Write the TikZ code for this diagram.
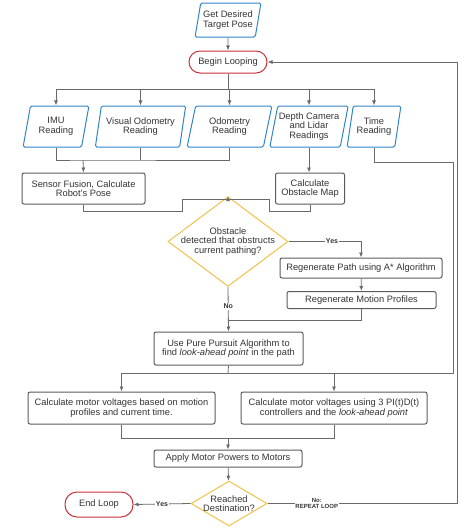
\documentclass[tikz,border=0pt]{standalone}
\usepackage{fontspec}
\setmainfont{Liberation Sans}
\usetikzlibrary{shapes.geometric,arrows.meta}
\definecolor{inblue}{HTML}{2F86C6}
\definecolor{loopred}{HTML}{C8303A}
\definecolor{askyellow}{HTML}{F1C24A}
\definecolor{boxgray}{HTML}{5A5A5A}
\definecolor{linegray}{HTML}{6A6A6A}
\definecolor{txtgray}{HTML}{333333}
\begin{document}
\begin{tikzpicture}[x=1pt,y=-1pt,
    font=\fontsize{9.3}{9.5}\selectfont, text=txtgray,
    >={Latex[length=5pt,width=4pt]},
    line/.style={draw=linegray, line width=0.8pt},
    inputbox/.style={trapezium, trapezium left angle=75, trapezium right angle=105,
      trapezium stretches=true, draw=inblue, line width=1pt, rounded corners=1.5pt,
      inner sep=1pt, align=center},
    stepbox/.style={draw=boxgray, line width=1pt, rounded corners=2pt, inner sep=1pt, align=center},
    loopbox/.style={draw=loopred, line width=1pt, rounded corners=11pt, inner sep=1pt, align=center},
    askbox/.style={diamond, draw=askyellow, line width=1pt, inner sep=-8pt, align=center},
    lbl/.style={font=\fontsize{7}{7}\selectfont\bfseries, fill=white, inner sep=1pt},
    lbltwo/.style={font=\fontsize{6}{6.5}\selectfont\bfseries, fill=white, inner sep=0.5pt, align=center}]
\useasboundingbox (0,0) rectangle (474,528);
%% Nodes
	% start
	\node[inputbox, minimum width=66, minimum height=34] (target) at (228,20) {Get Desired\\Target Pose};
	\node[loopbox, minimum width=78, minimum height=22] (begin) at (228,62) {Begin Looping};
	% readings
	\node[inputbox, minimum width=66, minimum height=41] (imu) at (56,126.5) {IMU\\Reading};
	\node[inputbox, minimum width=91, minimum height=41] (vo) at (140.5,126.5) {Visual Odometry\\Reading};
	\node[inputbox, minimum width=85, minimum height=41] (odo) at (229.5,126.5) {Odometry\\Reading};
	\node[inputbox, minimum width=74, minimum height=41] (depth) at (309,126.5) {Depth Camera\\and Lidar\\Readings};
	\node[inputbox, minimum width=54, minimum height=41] (time) at (374,126.5) {Time\\Reading};
	% processing
	\node[stepbox, minimum width=123, minimum height=31] (fusion) at (83.5,188.5) {Sensor Fusion, Calculate\\Robot's Pose};
	\node[stepbox, minimum width=69, minimum height=31] (obsmap) at (310,188.5) {Calculate\\Obstacle Map};
	\node[askbox, minimum width=120, minimum height=65] (obstacle) at (228,241.5) {Obstacle\\detected that obstructs\\current pathing?};
	\node[stepbox, minimum width=162, minimum height=20] (regenpath) at (361,268) {Regenerate Path using A* Algorithm};
	\node[stepbox, minimum width=149, minimum height=17] (regenmotion) at (361.5,300) {Regenerate Motion Profiles};
	\node[stepbox, minimum width=149, minimum height=33] (pursuit) at (228.5,348.5) {Use Pure Pursuit Algorithm to\\find \textit{look-ahead point} in the path};
	% motors
	\node[stepbox, minimum width=187, minimum height=32] (motion) at (121.5,408) {Calculate motor voltages based on motion\\profiles and current time.};
	\node[stepbox, minimum width=186, minimum height=32] (pid) at (334,408) {Calculate motor voltages using 3 PI(t)D(t)\\controllers and the \textit{look-ahead point}};
	\node[stepbox, minimum width=148, minimum height=17] (apply) at (228,458.5) {Apply Motor Powers to Motors};
	\node[askbox, minimum width=76, minimum height=45] (reached) at (229,503.5) {Reached\\Destination?};
	\node[loopbox, minimum width=68, minimum height=25, rounded corners=12pt] (end) at (99,504.5) {End Loop};
%% Junctions
	\coordinate (split1) at (228,89);
	\coordinate (merge1) at (83,160);
	\coordinate (join1) at (228,199);
	\coordinate (join2) at (228,320);
	\coordinate (split2) at (228,373);
	\coordinate (join3) at (228,438);
	\coordinate (timeright) at (453,162);
	\coordinate (loopright) at (457,503.5);
%% Edges
	\path[line, ->] (target) edge (begin);
	\draw[line] (begin.south) -- (split1);
	\foreach \n in {imu,vo,odo,depth,time}
		\draw[line, ->] (split1) -| (\n.north);
	\draw[line] (imu.south) |- (merge1) -| (odo.south);
	\draw[line] (vo.south) -- (vo.south |- merge1);
	\draw[line, ->] (merge1) -- (fusion.north);
	\draw[line, ->] (depth.south) -- (depth.south |- obsmap.north);
	\draw[line] (fusion.south) |- (182,211) |- (join1);
	\draw[line] (obsmap.south) |- (269,211) |- (join1);
	\draw[line, ->] (join1) -- (obstacle.north);
	\draw[line, ->] (obstacle.east) -| node[lbl, pos=0.3] {Yes} (regenpath.north);
	\draw[line, ->] (regenpath) -- (regenmotion);
	\draw[line] (regenmotion.south) |- (join2);
	\draw[line, ->] (obstacle.south) -- node[lbl, pos=0.43] {No} (pursuit.north);
	\draw[line] (pursuit.south) -- (split2);
	\draw[line] (time.south) |- (timeright) |- (split2);
	\draw[line, ->] (split2) -| (motion.north);
	\draw[line, ->] (split2) -| (pid.north);
	\draw[line] (motion.south) |- (join3);
	\draw[line] (pid.south) |- (join3);
	\draw[line, ->] (join3) -- (apply.north);
	\draw[line, ->] (apply) -- (reached);
	\draw[line, ->] (reached.west) -- node[lbl] {Yes} (end.east);
	\draw[line, ->] (reached.east) -- node[lbltwo, pos=0.26] {No:\\REPEAT LOOP} (loopright) |- (begin.east);
\end{tikzpicture}
\end{document}
